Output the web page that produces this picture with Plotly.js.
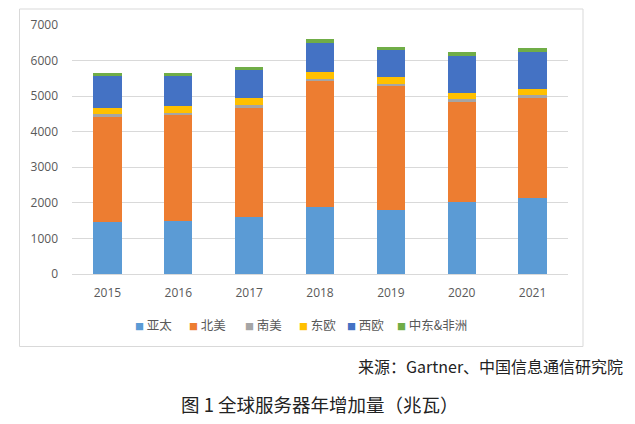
<!DOCTYPE html>
<html>
<head>
<meta charset="utf-8">
<script src="https://cdn.plot.ly/plotly-3.0.1.min.js"></script>
<style>html,body{margin:0;padding:0;background:#fff;}#chart{width:635px;height:424px;}</style>
</head>
<body>
<div id="chart"></div>
<script>
const years = ['2015','2016','2017','2018','2019','2020','2021'];
const seriesNames = ['亚太','北美','南美','东欧','西欧','中东&非洲'];
const yatai    = [1465, 1493, 1606, 1876, 1811, 2028, 2141];
const beimei   = [2957, 2966, 3070, 3549, 3474, 2817, 2817];
const nanmei   = [85, 76, 65, 48, 67, 85, 65];
const dongou   = [169, 197, 197, 217, 197, 169, 169];
const xiou     = [890, 834, 797, 797, 750, 1031, 1062];
const zhongdong= [96, 96, 96, 113, 95, 112, 93];
const yTicks = [0,1000,2000,3000,4000,5000,6000,7000];
const sourceText = '来源：Gartner、中国信息通信研究院';
const captionText = '图 1 全球服务器年增加量（兆瓦）';

const colors = ['#5B9BD5','#ED7D31','#A5A5A5','#FFC000','#4472C4','#70AD47'];
const allData = [yatai, beimei, nanmei, dongou, xiou, zhongdong];

const W = 635, H = 424;
const m = {l:72, r:67, t:25, b:150};
const pw = W - m.l - m.r, ph = H - m.t - m.b;
const px = x => (x - m.l) / pw;
const py = y => (H - m.b - y) / ph;

const traces = allData.map((vals, i) => ({
  type: 'bar',
  name: seriesNames[i],
  x: years,
  y: vals,
  marker: {color: colors[i], line: {width: 0}},
  hoverinfo: 'skip',
  showlegend: false
}));

const cjk = '"Noto Sans CJK SC", "Noto Sans", sans-serif';
const num = '"Open Sans", sans-serif';

// legend drawn as annotations (small square + label)
const legendLeft = [133, 187, 243, 297, 345, 395];
const legendAnn = seriesNames.map((n, i) => ({
  text: '<span style="color:' + colors[i] + ';font-size:9px">■</span> ' + n,
  xref: 'paper', yref: 'paper', x: px(legendLeft[i]), y: py(325),
  xanchor: 'left', yanchor: 'middle', showarrow: false,
  font: {family: cjk, size: 12.5, color: '#595959'}
}));

const layout = {
  width: W, height: H,
  margin: m,
  barmode: 'stack',
  bargap: 0.6,
  paper_bgcolor: '#fff',
  plot_bgcolor: '#fff',
  showlegend: false,
  xaxis: {
    type: 'category',
    showgrid: false,
    showline: true,
    linecolor: '#d9d9d9',
    linewidth: 1,
    ticks: '',
    ticklabelstandoff: 8,
    tickfont: {family: num, size: 12, color: '#595959'},
    fixedrange: true
  },
  yaxis: {
    range: [0, 7000],
    tickvals: yTicks,
    ticktext: yTicks.map(String),
    showgrid: true,
    gridcolor: '#d9d9d9',
    gridwidth: 1,
    zeroline: false,
    showline: false,
    ticks: '',
    ticklabelstandoff: 13,
    tickfont: {family: num, size: 12, color: '#595959'},
    fixedrange: true
  },
  shapes: [{
    type: 'rect', xref: 'paper', yref: 'paper',
    x0: px(19.5), x1: px(583), y0: py(346.5), y1: py(9),
    line: {color: '#d9d9d9', width: 1}, fillcolor: 'rgba(0,0,0,0)', layer: 'below'
  }],
  annotations: legendAnn.concat([
    {text: sourceText, xref: 'paper', yref: 'paper', x: px(625), y: py(366),
     xanchor: 'right', yanchor: 'middle', showarrow: false,
     font: {family: cjk, size: 16, color: '#222'}},
    {text: captionText, xref: 'paper', yref: 'paper', x: px(179), y: py(404),
     xanchor: 'left', yanchor: 'middle', showarrow: false,
     font: {family: cjk, size: 18.5, color: '#222'}}
  ])
};

Plotly.newPlot('chart', traces, layout, {displayModeBar: false, staticPlot: true});
</script>
</body>
</html>
